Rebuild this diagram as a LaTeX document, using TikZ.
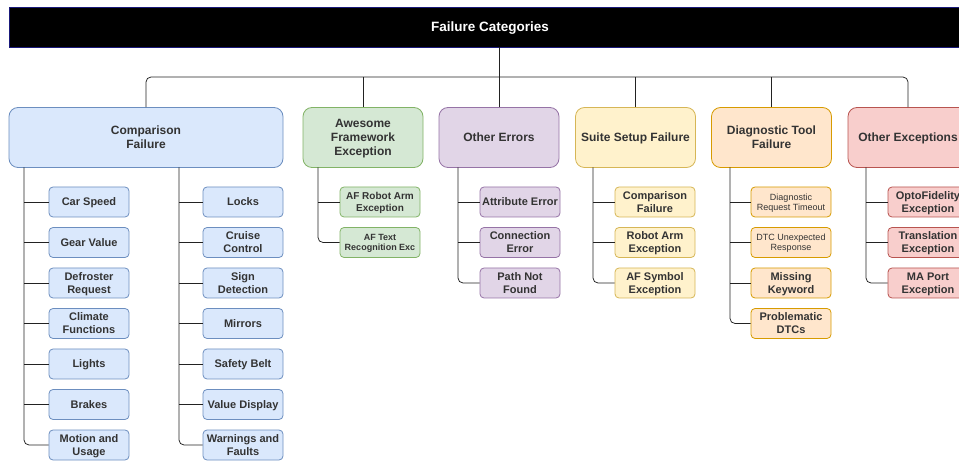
\documentclass[tikz,border=0pt]{standalone}
\usepackage{fontspec}
\setmainfont{Liberation Sans}
\definecolor{txt}{HTML}{333333}
\definecolor{bF}{HTML}{DAE8FC}\definecolor{bS}{HTML}{6C8EBF}
\definecolor{gF}{HTML}{D5E8D4}\definecolor{gS}{HTML}{82B366}
\definecolor{pF}{HTML}{E1D5E7}\definecolor{pS}{HTML}{9673A6}
\definecolor{yF}{HTML}{FFF2CC}\definecolor{yS}{HTML}{D6B656}
\definecolor{oF}{HTML}{FFE6CC}\definecolor{oS}{HTML}{D79B00}
\definecolor{rF}{HTML}{F8CECC}\definecolor{rS}{HTML}{B85450}
\definecolor{navy}{HTML}{1A1A7A}
\definecolor{lnk}{HTML}{222222}
\tikzset{
  topbox/.style={draw, line width=0.8pt, rounded corners=9pt, minimum height=60pt, inner sep=0pt, align=center, text=txt,
    text depth=0pt, font=\fontsize{12}{13.8}\selectfont\bfseries},
  kidbox/.style={draw, line width=0.8pt, rounded corners=4pt, minimum width=80pt, minimum height=30pt, inner sep=0pt, align=center, text=txt,
    text depth=0pt, font=\fontsize{11}{13}\selectfont\bfseries},
  blue/.style={fill=bF, draw=bS}, green/.style={fill=gF, draw=gS}, purple/.style={fill=pF, draw=pS},
  yellow/.style={fill=yF, draw=yS}, orange/.style={fill=oF, draw=oS}, red/.style={fill=rF, draw=rS},
  conn/.style={draw=lnk, line width=0.75pt},
  rconn/.style={conn, rounded corners=5pt},
  small/.style={font=\fontsize{9}{10.5}\selectfont\bfseries},
  smallreg/.style={font=\fontsize{9}{10.2}\selectfont},
  mid/.style={font=\fontsize{10}{12}\selectfont\bfseries},
}
\begin{document}
\begin{tikzpicture}[x=1pt,y=-1pt]
\useasboundingbox (0,0) rectangle (959,462);
\clip (0,0) rectangle (959,462);
% title
\node[fill=black, draw=navy, line width=0.8pt, minimum width=962pt, minimum height=40pt, inner sep=0pt, text depth=0pt,
  text=white, font=\fontsize{13.5}{15}\selectfont\bfseries] (title) at (490,27) {Failure Categories};
% top level
\node[topbox, blue, minimum width=274pt] (cf) at (146,137.5) {Comparison\\Failure};
\node[topbox, green, minimum width=120pt] (af) at (363,137.5) {Awesome\\Framework\\Exception};
\node[topbox, purple, minimum width=120pt] (oe) at (499,137.5) {Other Errors};
\node[topbox, yellow, minimum width=120pt] (ss) at (635.5,137.5) {Suite Setup Failure};
\node[topbox, orange, minimum width=120pt] (dt) at (771.5,137.5) {Diagnostic Tool\\Failure};
\node[topbox, red, minimum width=120pt] (ox) at (908,137.5) {Other Exceptions};
% bus
\coordinate (bus) at (499,77);
\draw[conn] (title.south -| oe.north) -- (oe.north);
\draw[rconn] (bus) -| (cf.north);
\draw[rconn] (bus) -| (ox.north);
\draw[conn] (bus -| af.north) -- (af.north);
\draw[conn] (bus -| ss.north) -- (ss.north);
\draw[conn] (bus -| dt.north) -- (dt.north);
% comparison children left
\node[kidbox, blue] (l1) at (89,202) {Car Speed};
\node[kidbox, blue] (l2) at (89,242.5) {Gear Value};
\node[kidbox, blue] (l3) at (89,283) {Defroster\\Request};
\node[kidbox, blue] (l4) at (89,323.5) {Climate\\Functions};
\node[kidbox, blue] (l5) at (89,364) {Lights};
\node[kidbox, blue] (l6) at (89,404.5) {Brakes};
\node[kidbox, blue] (l7) at (89,445) {Motion and\\Usage};
\node[kidbox, blue] (r1) at (243,202) {Locks};
\node[kidbox, blue] (r2) at (243,242.5) {Cruise\\Control};
\node[kidbox, blue] (r3) at (243,283) {Sign\\Detection};
\node[kidbox, blue] (r4) at (243,323.5) {Mirrors};
\node[kidbox, blue] (r5) at (243,364) {Safety Belt};
\node[kidbox, blue] (r6) at (243,404.5) {Value Display};
\node[kidbox, blue] (r7) at (243,445) {Warnings and\\Faults};
\coordinate (tL) at (24,167.5);
\coordinate (tR) at (179,167.5);
\draw[rconn] (tL) |- (l7.west);
\foreach \n in {l1,l2,l3,l4,l5,l6} \draw[conn] (tL |- \n.west) -- (\n.west);
\draw[rconn] (tR) |- (r7.west);
\foreach \n in {r1,r2,r3,r4,r5,r6} \draw[conn] (tR |- \n.west) -- (\n.west);
% awesome framework
\node[kidbox, green, mid] (a1) at (380,202) {AF Robot Arm\\Exception};
\node[kidbox, green, small] (a2) at (380,242.5) {AF Text\\Recognition Exc};
\coordinate (tA) at (318,167.5);
\draw[rconn] (tA) |- (a2.west);
\draw[conn] (tA |- a1.west) -- (a1.west);
% other errors
\node[kidbox, purple] (e1) at (520,202) {Attribute Error};
\node[kidbox, purple] (e2) at (520,242.5) {Connection\\Error};
\node[kidbox, purple] (e3) at (520,283) {Path Not\\Found};
\coordinate (tE) at (458,167.5);
\draw[rconn] (tE) |- (e3.west);
\foreach \n in {e1,e2} \draw[conn] (tE |- \n.west) -- (\n.west);
% suite setup
\node[kidbox, yellow] (s1) at (655,202) {Comparison\\Failure};
\node[kidbox, yellow] (s2) at (655,242.5) {Robot Arm\\Exception};
\node[kidbox, yellow] (s3) at (655,283) {AF Symbol\\Exception};
\coordinate (tS) at (593,167.5);
\draw[rconn] (tS) |- (s3.west);
\foreach \n in {s1,s2} \draw[conn] (tS |- \n.west) -- (\n.west);
% diagnostic tool
\node[kidbox, orange, smallreg] (d1) at (791,202) {Diagnostic\\Request Timeout};
\node[kidbox, orange, smallreg] (d2) at (791,242.5) {DTC Unexpected\\Response};
\node[kidbox, orange] (d3) at (791,283) {Missing\\Keyword};
\node[kidbox, orange] (d4) at (791,323.5) {Problematic\\DTCs};
\coordinate (tD) at (730,167.5);
\draw[rconn] (tD) |- (d4.west);
\foreach \n in {d1,d2,d3} \draw[conn] (tD |- \n.west) -- (\n.west);
% other exceptions
\node[kidbox, red] (x1) at (928,202) {OptoFidelity\\Exception};
\node[kidbox, red] (x2) at (928,242.5) {Translation\\Exception};
\node[kidbox, red] (x3) at (928,283) {MA Port\\Exception};
\coordinate (tX) at (866,167.5);
\draw[rconn] (tX) |- (x3.west);
\foreach \n in {x1,x2} \draw[conn] (tX |- \n.west) -- (\n.west);
\end{tikzpicture}
\end{document}
